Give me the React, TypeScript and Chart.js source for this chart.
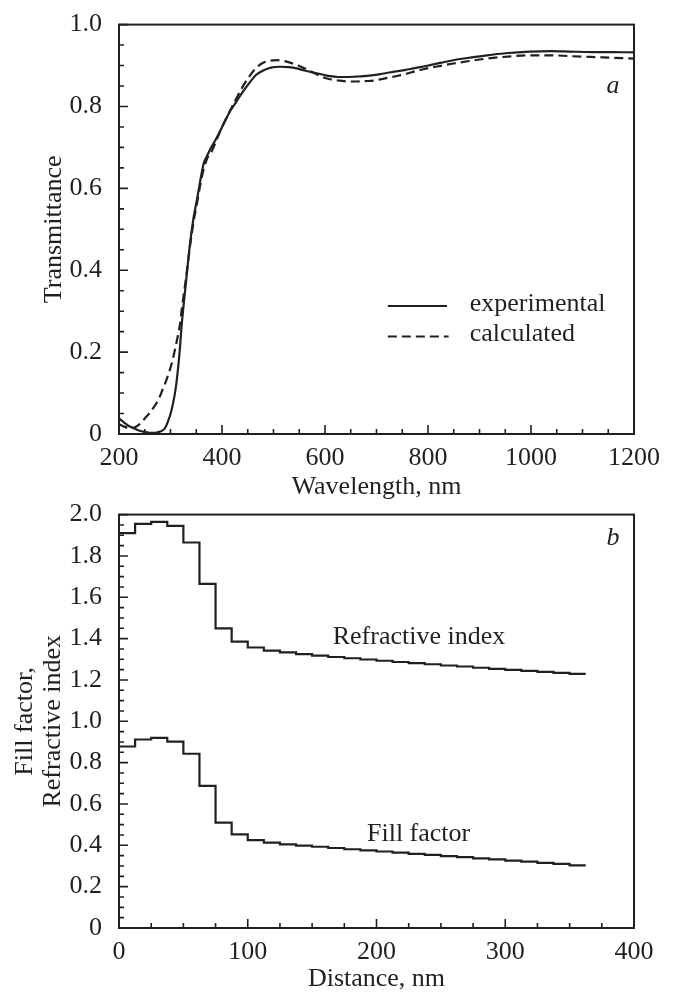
import React, { useEffect, useRef } from 'react';
import { Chart, registerables } from 'chart.js';

Chart.register(...registerables);

// ---------- Panel a: transmittance ----------
const expWavelength = [200, 210, 220, 231, 240, 250, 260, 270, 280, 289, 295, 302, 308, 312, 317, 322, 325, 330, 338, 345, 351, 358, 364, 370, 377, 386, 396, 405, 415, 428, 440, 454, 467, 480, 495, 512, 530, 545, 560, 577, 595, 610, 625, 642, 660, 675, 690, 707, 725, 740, 755, 772, 785, 804, 826, 849, 880, 914, 950, 998, 1040, 1075, 1120, 1160, 1200];
const experimental = [0.038, 0.028, 0.019, 0.013, 0.008, 0.005, 0.003, 0.003, 0.006, 0.014, 0.03, 0.058, 0.095, 0.13, 0.19, 0.27, 0.31, 0.37, 0.466, 0.53, 0.57, 0.62, 0.659, 0.677, 0.695, 0.715, 0.739, 0.762, 0.787, 0.812, 0.835, 0.859, 0.878, 0.888, 0.895, 0.897, 0.896, 0.893, 0.888, 0.883, 0.878, 0.874, 0.872, 0.872, 0.873, 0.874, 0.876, 0.879, 0.883, 0.886, 0.889, 0.893, 0.896, 0.901, 0.907, 0.913, 0.919, 0.925, 0.93, 0.934, 0.935, 0.934, 0.933, 0.933, 0.932];

const calcWavelength = [200, 210, 220, 230, 240, 250, 260, 270, 276, 285, 290, 296, 304, 312, 318, 322, 330, 338, 345, 351, 358, 364, 372, 380, 390, 400, 415, 428, 440, 454, 467, 480, 495, 506, 520, 532, 548, 564, 580, 597, 612, 629, 645, 661, 678, 694, 710, 726, 742, 758, 775, 791, 815, 849, 880, 914, 955, 998, 1040, 1075, 1140, 1200];
const calculated = [0.024, 0.018, 0.015, 0.016, 0.024, 0.038, 0.052, 0.07, 0.082, 0.11, 0.125, 0.146, 0.18, 0.226, 0.265, 0.306, 0.38, 0.46, 0.52, 0.56, 0.61, 0.645, 0.675, 0.69, 0.72, 0.75, 0.788, 0.82, 0.848, 0.875, 0.895, 0.907, 0.912, 0.913, 0.911, 0.907, 0.9, 0.891, 0.881, 0.871, 0.866, 0.863, 0.861, 0.861, 0.862, 0.863, 0.867, 0.871, 0.875, 0.88, 0.886, 0.891, 0.897, 0.905, 0.911, 0.917, 0.922, 0.925, 0.925, 0.923, 0.92, 0.917];

const waveTickLabels = ['200', '400', '600', '800', '1000', '1200'];
const transTickLabels = ['0', '0.2', '0.4', '0.6', '0.8', '1.0'];

// ---------- Panel b: depth profile ----------
const stepEdges = [0, 12.5, 25, 37.5, 50, 62.5, 75, 87.5, 100, 112.5, 125, 137.5, 150, 162.5, 175, 187.5, 200, 212.5, 225, 237.5, 250, 262.5, 275, 287.5, 300, 312.5, 325, 337.5, 350, 362.5];
const refractiveIndex = [1.91, 1.955, 1.965, 1.945, 1.865, 1.665, 1.45, 1.385, 1.357, 1.342, 1.333, 1.325, 1.318, 1.311, 1.305, 1.299, 1.293, 1.287, 1.281, 1.276, 1.27, 1.265, 1.259, 1.254, 1.249, 1.244, 1.239, 1.234, 1.229];
const fillFactor = [0.878, 0.912, 0.92, 0.902, 0.843, 0.688, 0.51, 0.453, 0.425, 0.413, 0.405, 0.399, 0.393, 0.387, 0.381, 0.376, 0.37, 0.365, 0.359, 0.354, 0.348, 0.343, 0.337, 0.332, 0.326, 0.321, 0.315, 0.31, 0.303];

const distTickLabels = ['0', '100', '200', '300', '400'];
const indexTickLabels = ['0', '0.2', '0.4', '0.6', '0.8', '1.0', '1.2', '1.4', '1.6', '1.8', '2.0'];

const INK = '#231f20';
const FONT = "'Liberation Serif', 'Times New Roman', Times, serif";
const FS = 26;

function stepPoints(values: number[]) {
  const pts = values.map((v, i) => ({ x: stepEdges[i], y: v }));
  pts.push({ x: stepEdges[values.length], y: values[values.length - 1] });
  return pts;
}

function frameTicksPlugin(xMinor: number, xMajor: number, yMinor: number, yMajor: number) {
  return {
    id: 'frameTicks',
    afterDatasetsDraw(chart: any) {
      const { ctx, chartArea: a } = chart;
      const xs = chart.scales.x;
      const ys = chart.scales.y;
      ctx.save();
      ctx.strokeStyle = INK;
      ctx.lineWidth = 1.6;
      const isMajor = (v: number, m: number) => Math.abs(v / m - Math.round(v / m)) < 1e-6;
      ctx.beginPath();
      for (let v = xs.min; v <= xs.max + 1e-9; v += xMinor) {
        const px = xs.getPixelForValue(v);
        const len = isMajor(v, xMajor) ? 9 : 5;
        ctx.moveTo(px, a.bottom);
        ctx.lineTo(px, a.bottom - len);
      }
      for (let v = ys.min; v <= ys.max + 1e-9; v += yMinor) {
        const py = ys.getPixelForValue(v);
        const len = isMajor(v, yMajor) ? 9 : 5;
        ctx.moveTo(a.left, py);
        ctx.lineTo(a.left + len, py);
      }
      ctx.stroke();
      ctx.lineWidth = 2;
      ctx.strokeRect(a.left, a.top, a.right - a.left, a.bottom - a.top);
      ctx.restore();
    },
  };
}

const panelALabels = {
  id: 'panelALabels',
  afterDraw(chart: any) {
    const { ctx } = chart;
    const xs = chart.scales.x;
    const ys = chart.scales.y;
    ctx.save();
    ctx.strokeStyle = INK;
    ctx.fillStyle = INK;
    ctx.lineWidth = 2;
    // legend samples
    ctx.beginPath();
    ctx.moveTo(xs.getPixelForValue(722), ys.getPixelForValue(0.3125));
    ctx.lineTo(xs.getPixelForValue(837), ys.getPixelForValue(0.3125));
    ctx.stroke();
    ctx.setLineDash([9, 5]);
    ctx.beginPath();
    ctx.moveTo(xs.getPixelForValue(722), ys.getPixelForValue(0.238));
    ctx.lineTo(xs.getPixelForValue(840), ys.getPixelForValue(0.238));
    ctx.stroke();
    ctx.setLineDash([]);
    ctx.font = `${FS}px ${FONT}`;
    ctx.textAlign = 'left';
    ctx.textBaseline = 'alphabetic';
    ctx.fillText('experimental', xs.getPixelForValue(881), ys.getPixelForValue(0.3));
    ctx.fillText('calculated', xs.getPixelForValue(881), ys.getPixelForValue(0.226));
    ctx.font = `italic ${FS}px ${FONT}`;
    ctx.textAlign = 'center';
    ctx.fillText('a', xs.getPixelForValue(1159), ys.getPixelForValue(0.832));
    ctx.restore();
  },
};

const panelBLabels = {
  id: 'panelBLabels',
  afterDraw(chart: any) {
    const { ctx } = chart;
    const xs = chart.scales.x;
    const ys = chart.scales.y;
    ctx.save();
    ctx.fillStyle = INK;
    ctx.font = `${FS}px ${FONT}`;
    ctx.textAlign = 'left';
    ctx.textBaseline = 'alphabetic';
    ctx.fillText('Refractive index', xs.getPixelForValue(166), ys.getPixelForValue(1.375));
    ctx.fillText('Fill factor', xs.getPixelForValue(192.6), ys.getPixelForValue(0.423));
    ctx.font = `italic ${FS}px ${FONT}`;
    ctx.textAlign = 'center';
    ctx.fillText('b', xs.getPixelForValue(383.7), ys.getPixelForValue(1.851));
    ctx.restore();
  },
};

const tickFont = { family: FONT, size: FS, lineHeight: 1.2 };

function labelFrom(list: string[], v: number) {
  const found = list.find((s) => Math.abs(parseFloat(s) - v) < 1e-6);
  return found ?? '';
}

function configA(): any {
  return {
    type: 'line',
    data: {
      datasets: [
        {
          label: 'experimental',
          data: expWavelength.map((x, i) => ({ x, y: experimental[i] })),
          borderColor: INK,
          borderWidth: 2.2,
          pointRadius: 0,
          cubicInterpolationMode: 'monotone',
          fill: false,
        },
        {
          label: 'calculated',
          data: calcWavelength.map((x, i) => ({ x, y: calculated[i] })),
          borderColor: INK,
          borderWidth: 2.2,
          borderDash: [9, 5],
          pointRadius: 0,
          cubicInterpolationMode: 'monotone',
          fill: false,
        },
      ],
    },
    options: {
      responsive: false,
      animation: false,
      events: [],
      layout: { padding: { top: 18, right: 41, left: 0, bottom: 0 } },
      plugins: { legend: { display: false }, tooltip: { enabled: false } },
      scales: {
        x: {
          type: 'linear',
          min: 200,
          max: 1200,
          grid: { display: false },
          border: { display: false },
          ticks: {
            stepSize: 200,
            font: tickFont,
            color: INK,
            padding: 1,
            maxRotation: 0,
            autoSkip: false,
            callback: (v: number) => labelFrom(waveTickLabels, v),
          },
          title: {
            display: true,
            text: 'Wavelength, nm',
            color: INK,
            font: { family: FONT, size: FS, lineHeight: 1 },
            padding: { top: 0, bottom: 9.4 },
          },
          afterFit: (s: any) => {
            s.height = 76;
          },
        },
        y: {
          type: 'linear',
          min: 0,
          max: 1,
          grid: { display: false },
          border: { display: false },
          ticks: {
            stepSize: 0.2,
            font: tickFont,
            color: INK,
            padding: 9,
            callback: (v: number) => labelFrom(transTickLabels, v),
          },
          title: {
            display: true,
            text: 'Transmittance',
            color: INK,
            font: { family: FONT, size: FS, lineHeight: 1 },
            padding: { top: 41, bottom: 0 },
          },
          afterFit: (s: any) => {
            s.width = 119;
          },
        },
      },
    },
    plugins: [frameTicksPlugin(50, 200, 0.05, 0.2), panelALabels],
  };
}

function configB(): any {
  return {
    type: 'line',
    data: {
      datasets: [
        {
          label: 'Refractive index',
          data: stepPoints(refractiveIndex),
          borderColor: INK,
          borderWidth: 2.2,
          pointRadius: 0,
          stepped: 'before',
          fill: false,
        },
        {
          label: 'Fill factor',
          data: stepPoints(fillFactor),
          borderColor: INK,
          borderWidth: 2.2,
          pointRadius: 0,
          stepped: 'before',
          fill: false,
        },
      ],
    },
    options: {
      responsive: false,
      animation: false,
      events: [],
      layout: { padding: { top: 22, right: 41, left: 0, bottom: 0 } },
      plugins: { legend: { display: false }, tooltip: { enabled: false } },
      scales: {
        x: {
          type: 'linear',
          min: 0,
          max: 400,
          grid: { display: false },
          border: { display: false },
          ticks: {
            stepSize: 100,
            font: tickFont,
            color: INK,
            padding: 1,
            maxRotation: 0,
            autoSkip: false,
            callback: (v: number) => labelFrom(distTickLabels, v),
          },
          title: {
            display: true,
            text: 'Distance, nm',
            color: INK,
            font: { family: FONT, size: FS, lineHeight: 1 },
            padding: { top: 0, bottom: 0 },
          },
          afterFit: (s: any) => {
            s.height = 64;
          },
        },
        y: {
          type: 'linear',
          min: 0,
          max: 2,
          grid: { display: false },
          border: { display: false },
          ticks: {
            stepSize: 0.2,
            font: tickFont,
            color: INK,
            padding: 9,
            callback: (v: number) => labelFrom(indexTickLabels, v),
          },
          title: {
            display: true,
            text: ['Fill factor,', 'Refractive index'],
            color: INK,
            font: { family: FONT, size: FS, lineHeight: 1.08 },
            padding: { top: 11.5, bottom: 0 },
          },
          afterFit: (s: any) => {
            s.width = 119;
          },
        },
      },
    },
    plugins: [frameTicksPlugin(25, 100, 0.05, 0.2), panelBLabels],
  };
}

function ChartPanel({ top, height, makeConfig }: { top: number; height: number; makeConfig: () => any }) {
  const ref = useRef<HTMLCanvasElement>(null);
  useEffect(() => {
    const chart = new Chart(ref.current as HTMLCanvasElement, makeConfig());
    return () => chart.destroy();
  }, [makeConfig]);
  return (
    <canvas
      ref={ref}
      width={675}
      height={height}
      style={{ position: 'absolute', left: 0, top, width: 675, height, display: 'block' }}
    />
  );
}

export default function App() {
  return (
    <div style={{ position: 'absolute', left: 0, top: 0, width: 675, height: 992, background: '#ffffff', overflow: 'hidden' }}>
      <ChartPanel top={0} height={510} makeConfig={configA} />
      <ChartPanel top={490} height={502} makeConfig={configB} />
    </div>
  );
}
